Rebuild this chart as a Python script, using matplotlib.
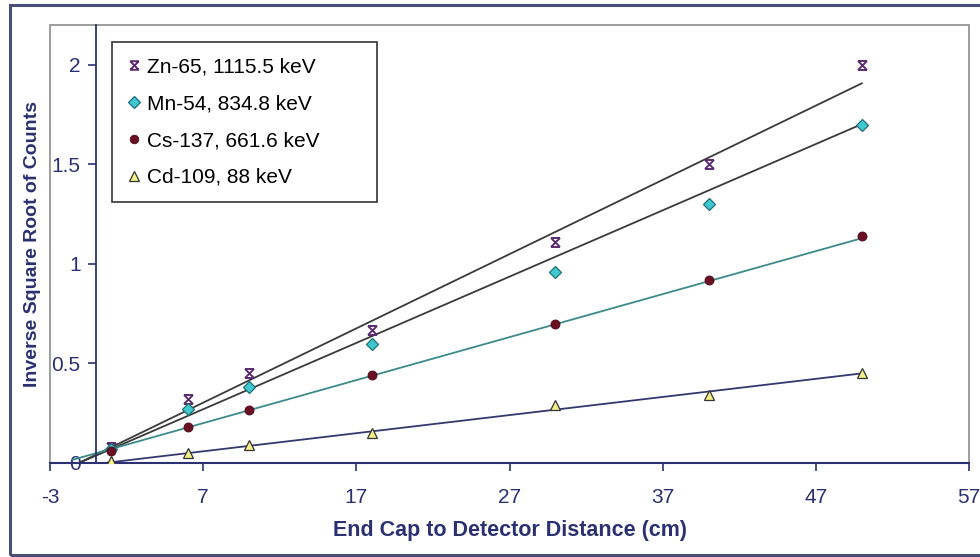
import numpy as np
import matplotlib
matplotlib.use("Agg")
import matplotlib.pyplot as plt
from matplotlib.path import Path
from matplotlib.patches import Rectangle

plt.rcParams["font.family"] = ["Liberation Sans", "DejaVu Sans"]
plt.rcParams["axes.unicode_minus"] = False

# Distances (cm)
distance = [1, 6, 10, 18, 30, 40, 50]

# Inverse square root of counts
zn65 = [0.08, 0.32, 0.45, 0.67, 1.11, 1.50, 2.00]
mn54 = [0.07, 0.27, 0.38, 0.60, 0.96, 1.30, 1.70]
cs137 = [0.06, 0.18, 0.265, 0.44, 0.70, 0.92, 1.14]
cd109 = [0.01, 0.05, 0.09, 0.15, 0.29, 0.34, 0.45]

# Excel trendlines as drawn in the picture (slope, intercept)
trend_slope = [0.0373, 0.0333, 0.0216, 0.0091]
trend_intercept = [0.042, 0.037, 0.049, -0.005]

labels = [
    "Zn-65, 1115.5 keV",
    "Mn-54, 834.8 keV",
    "Cs-137, 661.6 keV",
    "Cd-109, 88 keV",
]

x_ticks = [-3, 7, 17, 27, 37, 47, 57]
y_ticks = [0, 0.5, 1, 1.5, 2]

NAVY = "#2b3170"

# Excel style "x" with bars on top and bottom
zn_marker = Path(
    [(-1, 1), (1, -1), (-1, -1), (1, 1), (-1, 1), (1, 1), (-1, -1), (1, -1)],
    [Path.MOVETO, Path.LINETO, Path.MOVETO, Path.LINETO,
     Path.MOVETO, Path.LINETO, Path.MOVETO, Path.LINETO],
)

series = [
    (zn65, dict(marker=zn_marker, ms=6.5, mfc="none", mec="#5b2c6f", mew=1.4), "#3a3a3a"),
    (mn54, dict(marker="D", ms=6, mfc="#40c8d0", mec="#1f6f78", mew=0.9), "#3a3a3a"),
    (cs137, dict(marker="o", ms=6.5, mfc="#6b0f24", mec="#4a0a18", mew=0.6), "#3c8a8a"),
    (cd109, dict(marker="^", ms=7.5, mfc="#f3f08a", mec="#333333", mew=0.9), "#35386e"),
]

fig = plt.figure(figsize=(9.8, 5.57), dpi=100)
ax = fig.add_axes([50 / 980, (557 - 463) / 557, 919 / 980, 438 / 557])

x = np.array(distance, dtype=float)
xfit = np.array([-1.5, x.max()])
handles = []
for (vals, mstyle, lcolor), k, b in zip(series, trend_slope, trend_intercept):
    ax.plot(xfit, k * xfit + b, color=lcolor, lw=1.3, zorder=2)
    (h,) = ax.plot(x, vals, ls="none", zorder=3, **mstyle)
    handles.append(h)

ax.set_xlim(-3, 57)
ax.set_ylim(0, 2.2)
ax.set_xticks(x_ticks)
ax.set_yticks(y_ticks)
ax.set_yticklabels(["0", "0.5", "1", "1.5", "2"])

# y axis crosses at x = 0, like the Excel chart
ax.spines["left"].set_position(("data", 0))
ax.spines["left"].set_color(NAVY)
ax.spines["bottom"].set_color(NAVY)
ax.spines["left"].set_linewidth(1.3)
ax.spines["bottom"].set_linewidth(1.5)
ax.spines["top"].set_visible(False)
ax.spines["right"].set_visible(False)
ax.add_patch(Rectangle((0, 0), 1, 1, transform=ax.transAxes, fill=False,
                       edgecolor="#8c8c8c", lw=1.2, zorder=0, clip_on=False))

ax.tick_params(axis="both", direction="out", length=6, width=1.2, color=NAVY,
               labelcolor=NAVY, labelsize=15)
ax.tick_params(axis="x", pad=12)
ax.tick_params(axis="y", pad=5)

ax.set_xlabel("End Cap to Detector Distance (cm)", fontsize=15.5, fontweight="bold", color=NAVY)
ax.set_ylabel("Inverse Square Root of Counts", fontsize=14, fontweight="bold", color=NAVY)
ax.xaxis.set_label_coords(0.5, -0.13)
ax.yaxis.set_label_coords(-0.01, 0.5)

leg = ax.legend(handles, labels, loc="upper left",
                bbox_to_anchor=(0.0675, 0.961 - 0.37, 0.288, 0.37), mode="expand",
                borderaxespad=0, frameon=True, fancybox=False, fontsize=15,
                handlelength=0.6, handletextpad=0.35, labelspacing=0.85,
                borderpad=0.75, markerscale=0.95)
leg.get_frame().set_edgecolor("black")
leg.get_frame().set_linewidth(1.2)

# outer chart frame
fig.patches.append(Rectangle((10 / 980, 2 / 557), 1.0, 550 / 557, transform=fig.transFigure,
                             fill=False, edgecolor="#4a4f78", lw=2.2))

fig.savefig("out.png", dpi=100)
